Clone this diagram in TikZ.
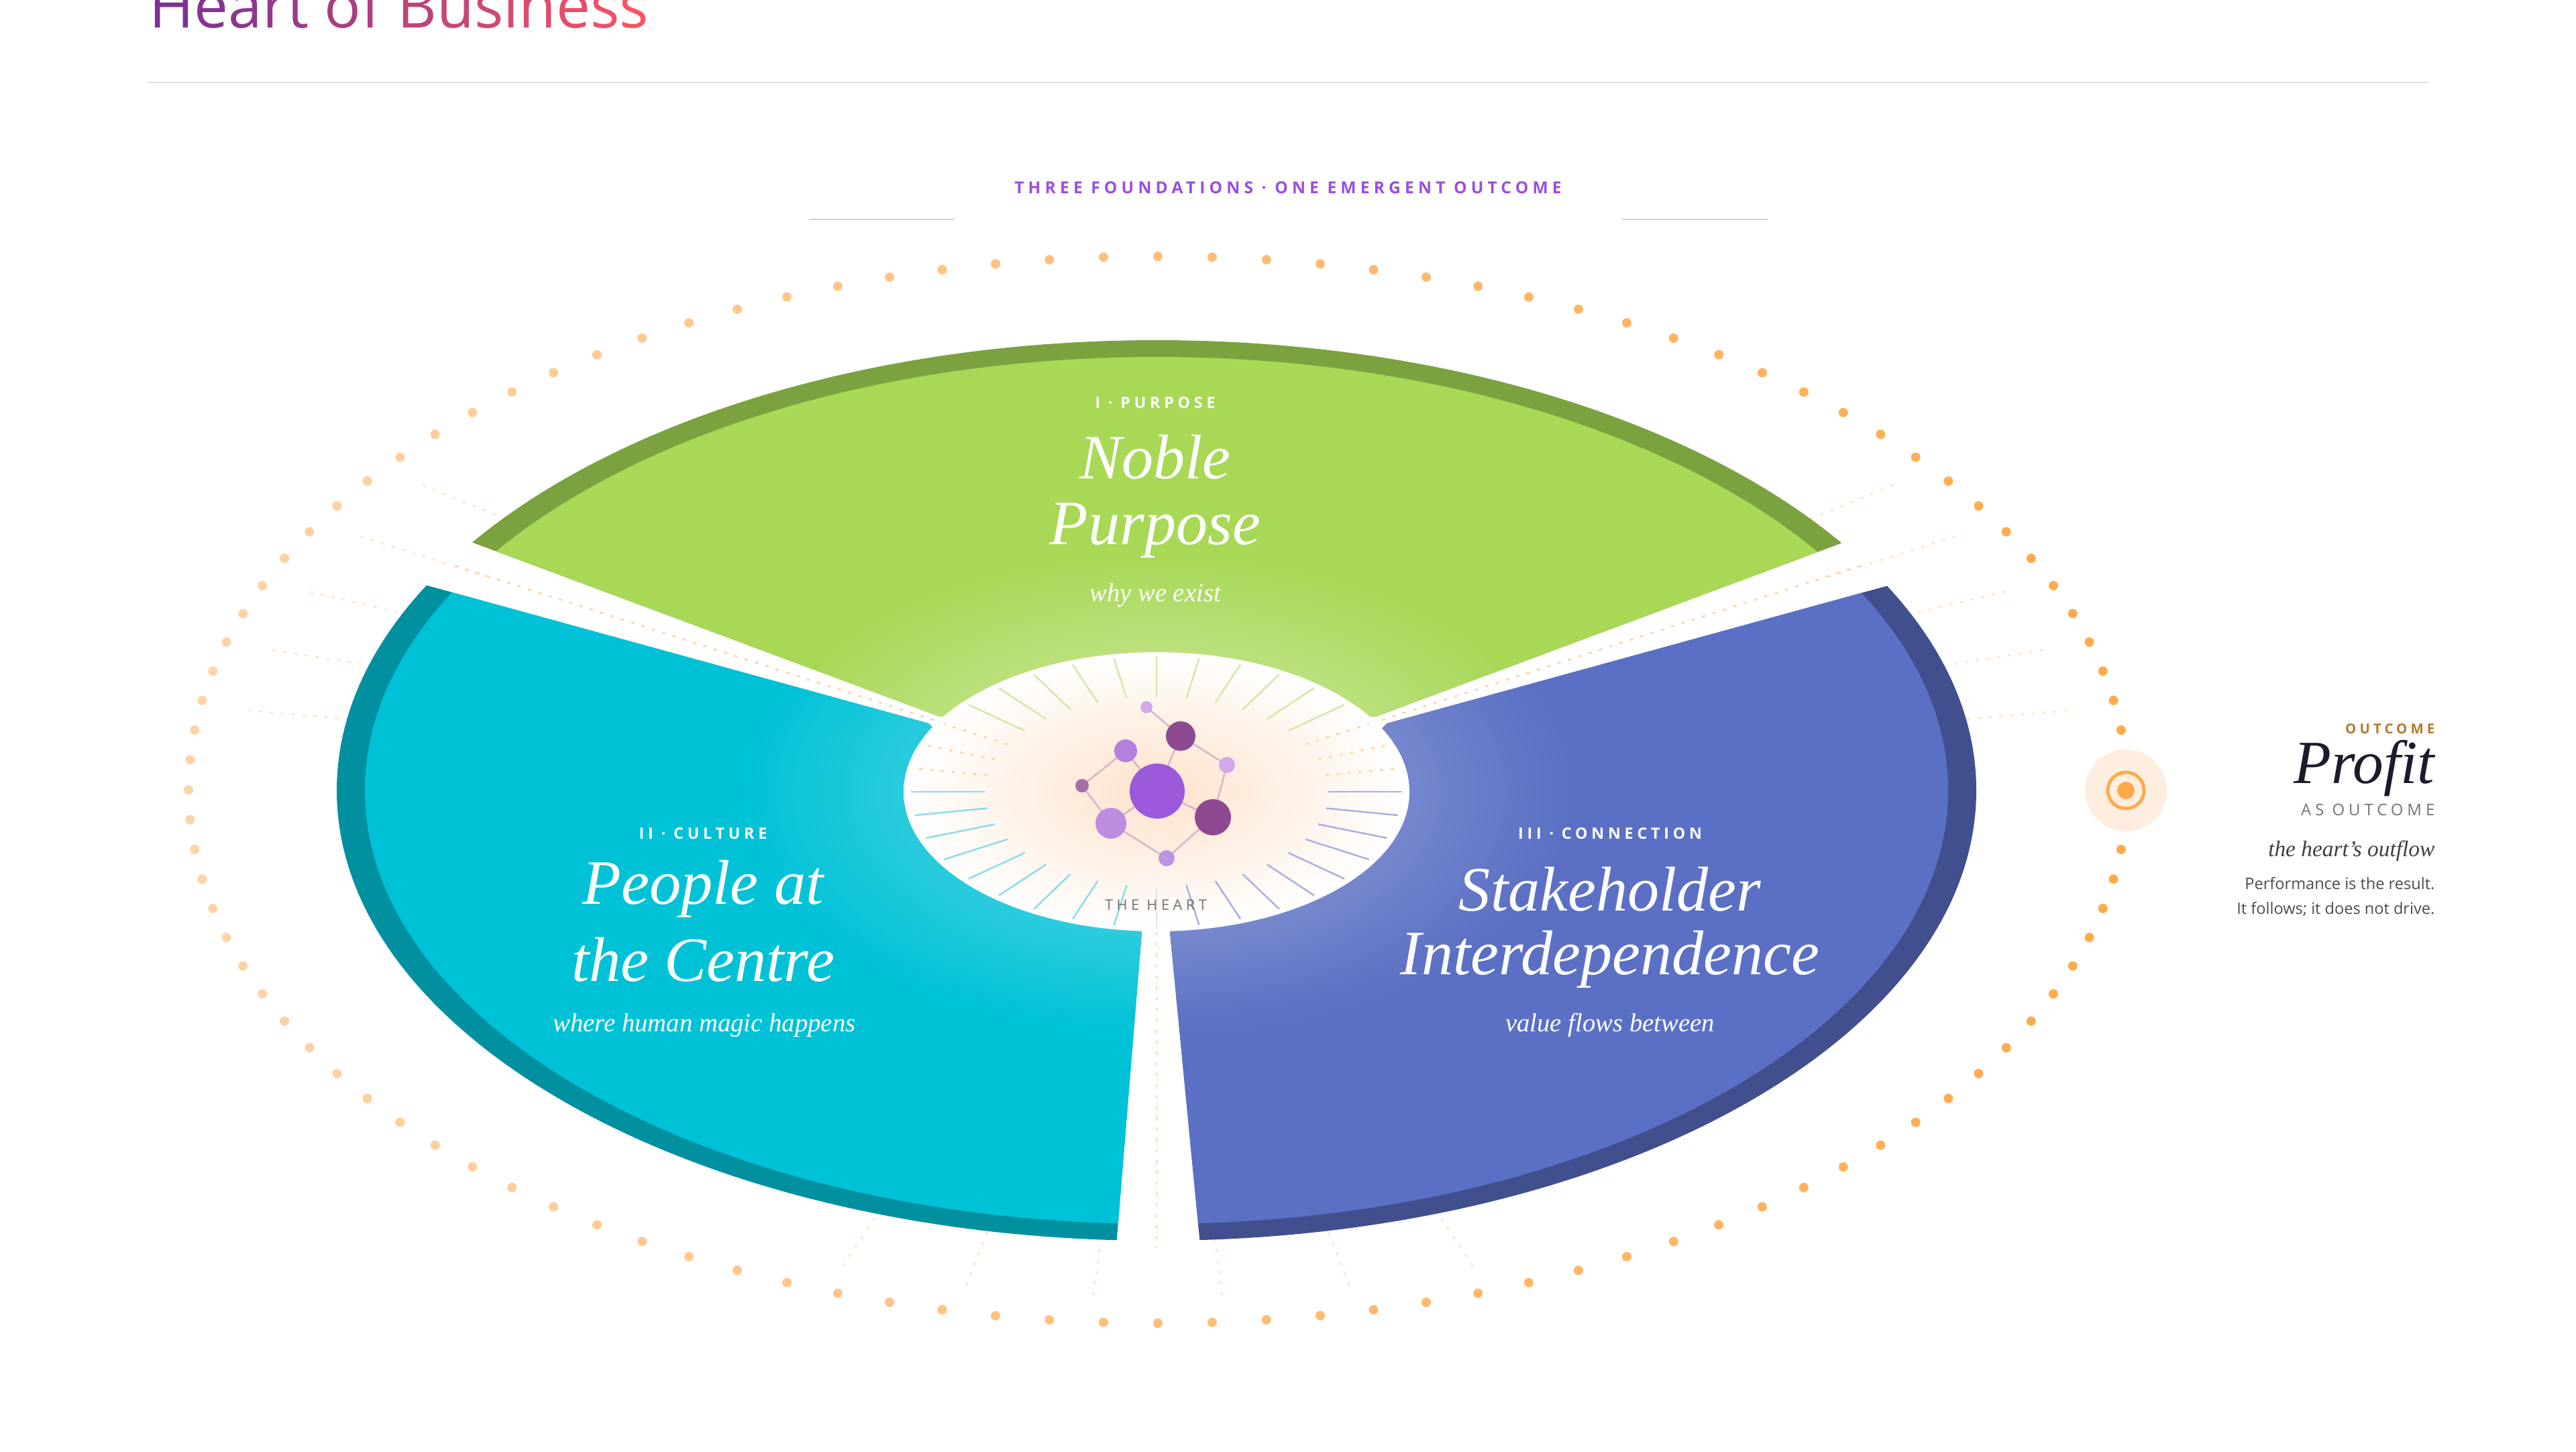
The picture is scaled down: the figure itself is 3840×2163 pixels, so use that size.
\documentclass[tikz,border=0pt]{standalone}
\usepackage{fontspec}
\setmainfont{Liberation Serif}
\newfontfamily\osans{Open Sans}
\newfontfamily\capsf[LetterSpace=25]{Open Sans}
\usetikzlibrary{fadings}
\tikzfading[name=glowfade, inner color=transparent!0, outer color=transparent!100]
\definecolor{gD}{HTML}{7BA23F}
\definecolor{gL}{HTML}{A8D856}
\definecolor{tD}{HTML}{0090A0}
\definecolor{tL}{HTML}{00C2D7}
\definecolor{bD}{HTML}{414F8F}
\definecolor{bL}{HTML}{5B70C4}
\definecolor{tA}{HTML}{7B3294}
\definecolor{tB}{HTML}{FF5560}
\definecolor{dotL}{HTML}{FFD3A6}
\definecolor{dotR}{HTML}{FFAA4A}
\definecolor{heartC}{HTML}{FDE3CC}
\definecolor{molBig}{HTML}{9B59DB}
\definecolor{molDark}{HTML}{8E4A91}
\definecolor{molLight}{HTML}{B57FDD}
\definecolor{molPale}{HTML}{D2A8EA}
\definecolor{rayG}{HTML}{D5E6A8}
\definecolor{rayT}{HTML}{8ADCE8}
\definecolor{rayB}{HTML}{A9B0DE}
\definecolor{accent}{HTML}{9B4DE0}
\definecolor{outc}{HTML}{B5782E}
\definecolor{profitc}{HTML}{1E1A2E}
\newcommand{\tl}[2]{\textcolor{tB!#1!tA}{#2}}
\tikzset{
  caplabel/.style={font=\capsf\bfseries\fontsize{6.6pt}{8pt}\selectfont, inner sep=0pt},
  head/.style={font=\itshape\fontsize{26.8pt}{30pt}\selectfont, text=white, inner sep=0pt},
  sub/.style={font=\itshape\fontsize{11pt}{13pt}\selectfont, text=white, inner sep=0pt},
  mol/.style={line width=0.8pt, draw=molDark!60, opacity=0.55},
  rtext/.style={anchor=east, inner sep=0pt},
  peachdots/.style={line width=0.75pt, draw=dotL, dash pattern=on 1.4pt off 3.2pt},
}
\begin{document}
\begin{tikzpicture}[x=0.01cm,y=-0.01cm]
\useasboundingbox (0,0) rectangle (3840,2163);
\fill[white] (0,0) rectangle (3840,2163);
% title
\node[anchor=base west, inner sep=0pt, font=\osans\fontsize{25.8pt}{28pt}\selectfont] (title) at (222,41)
 {\tl{0}{H}\tl{7}{e}\tl{13}{a}\tl{19}{r}\tl{25}{t} \tl{34}{o}\tl{40}{f} \tl{50}{B}\tl{57}{u}\tl{63}{s}\tl{69}{i}\tl{74}{n}\tl{80}{e}\tl{87}{s}\tl{94}{s}};
\draw[line width=0.8pt, draw=black!12] (220,123) -- (3620,123);
% top label
\node[caplabel, text=accent, font=\capsf\bfseries\fontsize{7pt}{8pt}\selectfont] (top) at (1920,280) {THREE FOUNDATIONS · ONE EMERGENT OUTCOME};
\draw[line width=0.8pt, draw=black!18] (1206,327) -- (1423,327);
\draw[line width=0.8pt, draw=black!18] (2418,327) -- (2635,327);
% faint radial dotted lines
\foreach \a in {143,150,157,164,171, 9,16,23,30,37, 250,258,266,274,282,290}{
  \draw[peachdots, draw=dotL!60]
    ({1726+1445*0.95*cos(\a)},{1177-795*0.95*sin(\a)}) -- ({1726+1445*0.80*cos(\a)},{1177-795*0.80*sin(\a)});
}
% orbit dots
\foreach \i in {0,...,111}{
  \pgfmathsetmacro{\ang}{\i*3.2142857}
  \pgfmathsetmacro{\pc}{int(50+50*cos(\ang))}
  \fill[dotR!\pc!dotL] ({1726+1445*cos(\ang)},{1177-795*sin(\ang)}) circle[radius=7];
}
% green sector
\begin{scope}
\clip (1401,1068)--(5,548)--(5,-100)--(3447,-100)--(3447,548)--(2051,1068)--cycle;
\fill[gD] (1724,1178) ellipse [x radius=1222, y radius=671];
\fill[gL] (1724,1178) ellipse [x radius=1180, y radius=646];
\fill[white, opacity=0.55, path fading=glowfade] (1724,1180) ellipse [x radius=620, y radius=360];
\end{scope}
% teal sector
\begin{scope}
\clip (1384,1078)--(-100,670)--(-100,2300)--(1628,2300)--(1702,1389)--cycle;
\fill[tD] (1724,1178) ellipse [x radius=1222, y radius=671];
\fill[tL] (1724,1178) ellipse [x radius=1180, y radius=646];
\fill[white, opacity=0.4, path fading=glowfade] (1724,1180) ellipse [x radius=620, y radius=360];
\end{scope}
% blue sector
\begin{scope}
\clip (2068,1078)--(3552,670)--(3952,670)--(3952,2300)--(1832,2300)--(1744,1389)--cycle;
\fill[bD] (1724,1178) ellipse [x radius=1222, y radius=671];
\fill[bL] (1724,1178) ellipse [x radius=1180, y radius=646];
\fill[white, opacity=0.4, path fading=glowfade] (1724,1180) ellipse [x radius=620, y radius=360];
\end{scope}
% gap dotted lines
\draw[peachdots] (1392,1073) -- (672,841);
\draw[peachdots] (2060,1073) -- (2780,841);
\draw[peachdots] (1724,1389) -- (1724,1860);
% heart
\shade[inner color=heartC, outer color=white] (1724,1180) ellipse [x radius=377, y radius=208];
\foreach \a in {0,10,...,350}{
  \pgfmathsetmacro{\c}{ (\a>33 && \a<147) ? 1 : ((\a>147 && \a<173) || (\a>7 && \a<33) ? 0 : ((\a>173 && \a<262) ? 2 : ((\a>278 || \a<7) ? 3 : 4)))}
  \ifnum\c=1 \def\rc{rayG}\fi
  \ifnum\c=2 \def\rc{rayT}\fi
  \ifnum\c=3 \def\rc{rayB}\fi
  \ifnum\c=0 \def\rc{dotL}\fi
  \ifnum\c=4 \def\rc{black!10}\fi
  \ifnum\c=0
    \draw[peachdots] ({1724+377*0.68*cos(\a)},{1180-208*0.68*sin(\a)}) -- ({1724+377*0.97*cos(\a)},{1180-208*0.97*sin(\a)});
  \else
    \draw[line width=0.7pt, draw=\rc] ({1724+377*0.68*cos(\a)},{1180-208*0.68*sin(\a)}) -- ({1724+377*0.97*cos(\a)},{1180-208*0.97*sin(\a)});
  \fi
}
% molecule
\coordinate (m0) at (1725,1179);
\coordinate (m1) at (1760,1097);
\coordinate (m2) at (1678,1119);
\coordinate (m3) at (1709,1054);
\coordinate (m4) at (1829,1140);
\coordinate (m5) at (1613,1171);
\coordinate (m6) at (1656,1227);
\coordinate (m7) at (1808,1218);
\coordinate (m8) at (1739,1279);
\draw[mol] (m3)--(m1)--(m4)--(m7)--(m8)--(m6)--(m5)--(m2)--(m0)--(m1);
\draw[mol] (m6)--(m0)--(m7);
\fill[molBig] (m0) circle[radius=41];
\fill[molDark] (m1) circle[radius=22];
\fill[molLight] (m2) circle[radius=17];
\fill[molPale] (m3) circle[radius=9];
\fill[molPale] (m4) circle[radius=12];
\fill[molDark!80] (m5) circle[radius=10];
\fill[molLight!90] (m6) circle[radius=23];
\fill[molDark] (m7) circle[radius=27];
\fill[molLight!85] (m8) circle[radius=12];
\node[caplabel, text=black!55, font=\capsf\fontsize{6.2pt}{8pt}\selectfont] (heart) at (1723,1349) {THE HEART};
% sector texts
\node[caplabel, text=white] (l1) at (1722,600) {I · PURPOSE};
\node[head] (h1a) at (1722,681) {Noble};
\node[head] (h1b) at (1722,791) {Purpose};
\node[sub] (s1) at (1722,887) {why we exist};
\node[caplabel, text=white] (l2) at (1048,1242) {II · CULTURE};
\node[head] (h2a) at (1048,1325) {People at};
\node[head] (h2b) at (1048,1430) {the Centre};
\node[sub] (s2) at (1050,1528) {where human magic happens};
\node[caplabel, text=white] (l3) at (2400,1242) {III · CONNECTION};
\node[head] (h3a) at (2400,1325) {Stakeholder};
\node[head] (h3b) at (2400,1430) {Interdependence};
\node[sub] (s3) at (2400,1528) {value flows between};
% profit marker
\fill[heartC!60] (3169,1178) circle[radius=61];
\draw[line width=1.4pt, draw=dotR] (3169,1178) circle[radius=27];
\fill[dotR] (3169,1178) circle[radius=13];
% right texts
\node[rtext, caplabel, text=outc, font=\capsf\bfseries\fontsize{5.8pt}{7pt}\selectfont] (oc) at (3630,1086) {OUTCOME};
\node[rtext, font=\itshape\fontsize{26pt}{30pt}\selectfont, text=profitc] (profit) at (3630,1145) {Profit};
\node[rtext, caplabel, text=black!55, font=\capsf\fontsize{6.8pt}{8pt}\selectfont] (aso) at (3630,1207) {AS OUTCOME};
\node[rtext, font=\itshape\fontsize{9.5pt}{11pt}\selectfont, text=black!75] (flow) at (3630,1268) {the heart’s outflow};
\node[rtext, font=\osans\fontsize{6.7pt}{8pt}\selectfont, text=black!70] (perf1) at (3630,1317) {Performance is the result.};
\node[rtext, font=\osans\fontsize{6.7pt}{8pt}\selectfont, text=black!70] (perf2) at (3630,1355) {It follows; it does not drive.};
\end{tikzpicture}
\end{document}
